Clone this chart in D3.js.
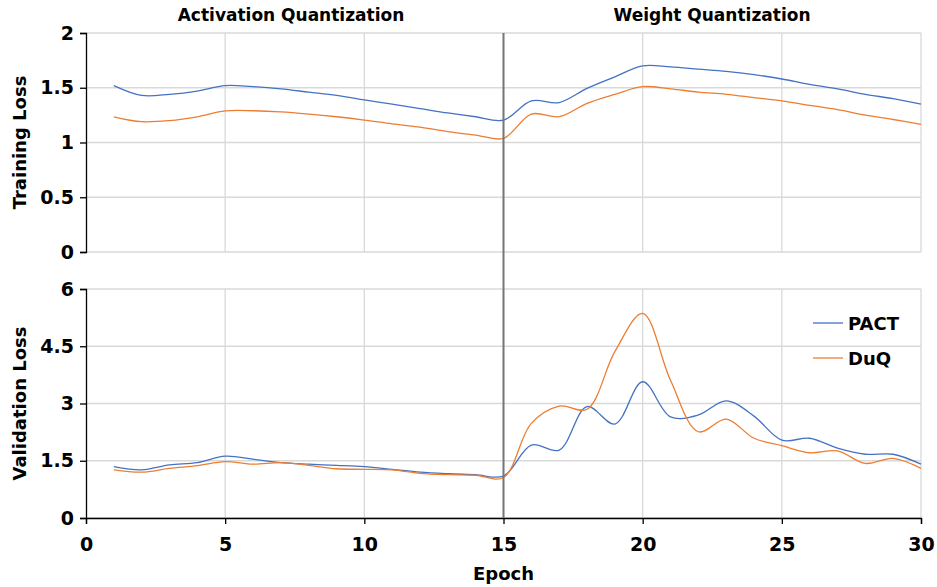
<!DOCTYPE html>
<html>
<head>
<meta charset="utf-8">
<style>
  body { margin: 0; background: #fff; }
  svg text { font-family: "DejaVu Sans", Verdana, sans-serif; font-weight: bold; fill: #000; }
</style>
</head>
<body>
<div class="container"></div>
<script src="https://d3js.org/d3.v7.min.js"></script>
<script>
  // epochs 1..30
  var epochs = d3.range(1, 31);

  var trainPACT = [1.52, 1.43, 1.44, 1.47, 1.52, 1.51, 1.49, 1.46, 1.43, 1.39,
                   1.35, 1.31, 1.27, 1.235, 1.205, 1.38, 1.365, 1.495, 1.60, 1.70,
                   1.69, 1.67, 1.65, 1.62, 1.58, 1.53, 1.49, 1.44, 1.40, 1.35];
  var trainDuQ  = [1.235, 1.19, 1.20, 1.235, 1.288, 1.29, 1.28, 1.26, 1.235, 1.205,
                   1.17, 1.14, 1.10, 1.068, 1.038, 1.26, 1.236, 1.358, 1.44, 1.51,
                   1.49, 1.46, 1.44, 1.41, 1.38, 1.34, 1.30, 1.25, 1.21, 1.166];
  var valPACT   = [1.345, 1.26, 1.39, 1.45, 1.62, 1.54, 1.45, 1.41, 1.38, 1.345,
                   1.275, 1.20, 1.16, 1.135, 1.10, 1.91, 1.78, 2.92, 2.46, 3.57,
                   2.65, 2.70, 3.07, 2.67, 2.04, 2.09, 1.83, 1.67, 1.67, 1.41];
  var valDuQ    = [1.26, 1.20, 1.30, 1.37, 1.475, 1.41, 1.45, 1.38, 1.29, 1.275,
                   1.26, 1.17, 1.135, 1.12, 1.06, 2.48, 2.93, 2.85, 4.36, 5.36,
                   3.61, 2.26, 2.59, 2.09, 1.895, 1.71, 1.76, 1.43, 1.56, 1.30];

  var seriesNames = ['PACT', 'DuQ'];
  var colors = ['#4472C4', '#ED7D31'];
  var xTicks = [0, 5, 10, 15, 20, 25, 30];
  var trainTicks = [0, 0.5, 1, 1.5, 2];
  var valTicks = [0, 1.5, 3, 4.5, 6];
  var phaseTitles = ['Activation Quantization', 'Weight Quantization'];

  var W = 937, H = 587;
  var svg = d3.select('.container').append('svg').attr('width', W).attr('height', H);

  var x = d3.scaleLinear().domain([0, 30]).range([86, 921]);
  var yTop = d3.scaleLinear().domain([0, 2]).range([252, 33]);
  var yBot = d3.scaleLinear().domain([0, 6]).range([518, 289]);

  function panel(y, ticks, data, label, showX) {
    var g = svg.append('g');
    // gridlines
    g.selectAll('.hg').data(ticks).enter().append('line')
      .attr('x1', x(0)).attr('x2', x(30))
      .attr('y1', function(d) { return y(d); }).attr('y2', function(d) { return y(d); })
      .attr('stroke', '#d9d9d9').attr('stroke-width', 1.3);
    g.selectAll('.vg').data(xTicks.slice(1)).enter().append('line')
      .attr('x1', function(d) { return x(d); }).attr('x2', function(d) { return x(d); })
      .attr('y1', y.range()[1]).attr('y2', y.range()[0])
      .attr('stroke', '#d9d9d9').attr('stroke-width', 1.3);

    // lines
    var line = d3.line()
      .x(function(d, i) { return x(epochs[i]); })
      .y(function(d) { return y(d); })
      .curve(d3.curveCatmullRom.alpha(0.5));
    data.forEach(function(s, k) {
      g.append('path').attr('d', line(s)).attr('fill', 'none')
        .attr('stroke', colors[k]).attr('stroke-width', 1.3);
    });

    // y axis
    var ya = g.append('g').attr('transform', 'translate(' + x(0) + ',0)')
      .call(d3.axisLeft(y).tickValues(ticks).tickSize(6).tickPadding(6)
        .tickFormat(function(d) { return String(d); }));
    ya.select('.domain').attr('stroke', '#000').attr('stroke-width', 1.3);
    ya.selectAll('.tick line').attr('stroke', '#000').attr('stroke-width', 1.3);
    ya.selectAll('.tick text').attr('font-size', 19).attr('font-family', null);

    if (showX) {
      var xa = g.append('g').attr('transform', 'translate(0,' + y(0) + ')')
        .call(d3.axisBottom(x).tickValues(xTicks).tickSize(6).tickPadding(14));
      xa.select('.domain').attr('stroke', '#000').attr('stroke-width', 1.3);
      xa.selectAll('.tick line').attr('stroke', '#000').attr('stroke-width', 1.3);
      xa.selectAll('.tick text').attr('font-size', 19).attr('font-family', null);
    }

    var mid = (y.range()[0] + y.range()[1]) / 2;
    g.append('text').text(label)
      .attr('transform', 'translate(26,' + mid + ') rotate(-90)')
      .attr('text-anchor', 'middle').attr('font-size', 18);
  }

  panel(yTop, trainTicks, [trainPACT, trainDuQ], 'Training Loss', false);
  panel(yBot, valTicks, [valPACT, valDuQ], 'Validation Loss', true);

  // phase divider at epoch 15
  svg.append('line')
    .attr('x1', x(15)).attr('x2', x(15))
    .attr('y1', yTop(2)).attr('y2', yBot(0))
    .attr('stroke', '#767676').attr('stroke-width', 2);

  // phase titles
  svg.selectAll('.pt').data(phaseTitles).enter().append('text')
    .text(function(d) { return d; })
    .attr('x', function(d, i) { return i === 0 ? 291 : 712; })
    .attr('y', 21)
    .attr('text-anchor', 'middle').attr('font-size', 17);

  // x axis title
  svg.append('text').text('Epoch')
    .attr('x', x(15)).attr('y', 580)
    .attr('text-anchor', 'middle').attr('font-size', 18);

  // legend
  var lg = svg.append('g');
  seriesNames.forEach(function(n, k) {
    var ly = 323 + k * 35;
    lg.append('line').attr('x1', 813).attr('x2', 843).attr('y1', ly).attr('y2', ly)
      .attr('stroke', colors[k]).attr('stroke-width', 1.3);
    lg.append('text').text(n).attr('x', 848).attr('y', ly)
      .attr('dominant-baseline', 'central').attr('font-size', 18);
  });
</script>
</body>
</html>
